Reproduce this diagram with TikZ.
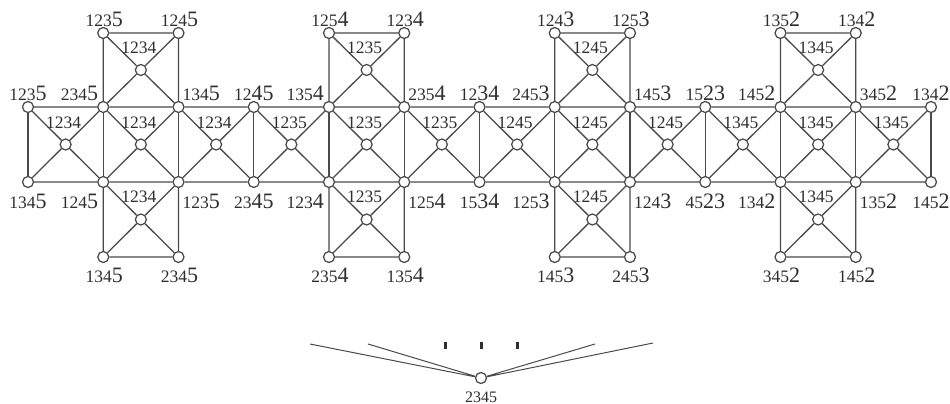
\documentclass[tikz,border=0pt]{standalone}
\usepackage{fontspec}
\setmainfont{Liberation Serif}
\definecolor{ln}{HTML}{4A4A4A}
\definecolor{tx}{HTML}{2E2E2E}
\tikzset{
  vtx/.style={circle, draw=ln, fill=white, line width=1.25pt, minimum size=11pt, inner sep=0pt},
  edge/.style={draw=ln, line width=1.3pt},
  lbl/.style={text=tx, inner sep=0pt, font=\fontsize{17.5}{17.5}\selectfont},
}
\newcommand{\lb}[2]{#1{\fontsize{22}{22}\selectfont #2}}
\begin{document}
\begin{tikzpicture}[x=1pt,y=-1pt]
\useasboundingbox (0,0) rectangle (950,404);
% vertices of the main strip
\foreach \i in {0,...,12} {
  \pgfmathsetmacro{\xx}{28+75.25*\i}
  \node[vtx] (t\i) at (\xx,107) {};
  \node[vtx] (b\i) at (\xx,182) {};
}
\foreach \i in {0,...,11} {
  \pgfmathsetmacro{\xx}{28+75.25*(\i+0.5)}
  \node[vtx] (m\i) at (\xx,144.5) {};
}
% squares above and below
\foreach \k in {1,4,7,10} {
  \pgfmathsetmacro{\xa}{28+75.25*\k}
  \pgfmathsetmacro{\xb}{28+75.25*(\k+1)}
  \pgfmathsetmacro{\xc}{28+75.25*(\k+0.5)}
  \node[vtx] (ua\k) at (\xa,33) {};
  \node[vtx] (ub\k) at (\xb,33) {};
  \node[vtx] (uc\k) at (\xc,70) {};
  \node[vtx] (da\k) at (\xa,257) {};
  \node[vtx] (db\k) at (\xb,257) {};
  \node[vtx] (dc\k) at (\xc,219.5) {};
}
% edges of the strip
\foreach \i [evaluate=\i as \j using int(\i+1)] in {0,...,11} {
  \draw[edge] (t\i) -- (t\j) (b\i) -- (b\j) (t\i) -- (m\i) (m\i) -- (b\j) (b\i) -- (m\i) (m\i) -- (t\j);
}
\foreach \i in {0,...,12} { \draw[edge] (t\i) -- (b\i); }
% edges of the squares
\foreach \k [evaluate=\k as \j using int(\k+1)] in {1,4,7,10} {
  \draw[edge] (ua\k) -- (ub\k) (ua\k) -- (t\k) (ub\k) -- (t\j)
    (ua\k) -- (uc\k) (uc\k) -- (t\j) (ub\k) -- (uc\k) (uc\k) -- (t\k);
  \draw[edge] (da\k) -- (db\k) (da\k) -- (b\k) (db\k) -- (b\j)
    (b\k) -- (dc\k) (dc\k) -- (db\k) (b\j) -- (dc\k) (dc\k) -- (da\k);
}
% labels of the top row
\foreach \i/\p/\q/\an/\dx in {0/123/5/base/0, 1/234/5/base east/-5, 2/134/5/base west/4,
  3/12/45/base/0, 4/135/4/base east/-5, 5/235/4/base west/4,
  6/12/34/base/0, 7/245/3/base east/-5, 8/145/3/base west/4,
  9/15/23/base/0, 10/145/2/base east/-5, 11/345/2/base west/4, 12/134/2/base/0} {
  \pgfmathsetmacro{\xx}{28+75.25*\i+\dx}
  \node[lbl, anchor=\an] (lt\i) at (\xx,100) {\lb{\p}{\q}};
}
% labels of the bottom row
\foreach \i/\p/\q/\an/\dx in {0/134/5/base/0, 1/124/5/base east/-5, 2/123/5/base west/4,
  3/23/45/base/0, 4/123/4/base east/-5, 5/125/4/base west/4,
  6/15/34/base/0, 7/125/3/base east/-5, 8/124/3/base west/4,
  9/45/23/base/0, 10/134/2/base east/-5, 11/135/2/base west/4, 12/145/2/base/0} {
  \pgfmathsetmacro{\xx}{28+75.25*\i+\dx}
  \node[lbl, anchor=\an] (lb\i) at (\xx,208) {\lb{\p}{\q}};
}
% labels of the square corners
\foreach \k/\pa/\qa/\pb/\qb/\pc/\qc/\pd/\qd in {1/123/5/124/5/134/5/234/5,
  4/125/4/123/4/235/4/135/4, 7/124/3/125/3/145/3/245/3, 10/135/2/134/2/345/2/145/2} {
  \pgfmathsetmacro{\xa}{28+75.25*\k+1}
  \pgfmathsetmacro{\xb}{28+75.25*(\k+1)+1}
  \node[lbl, anchor=base] (lua\k) at (\xa,27) {\lb{\pa}{\qa}};
  \node[lbl, anchor=base] (lub\k) at (\xb,27) {\lb{\pb}{\qb}};
  \node[lbl, anchor=base] (lda\k) at (\xa,282) {\lb{\pc}{\qc}};
  \node[lbl, anchor=base] (ldb\k) at (\xb,282) {\lb{\pd}{\qd}};
}
% labels of the middle vertices
\foreach \i/\t in {0/1234,1/1234,2/1234,3/1235,4/1235,5/1235,6/1245,7/1245,8/1245,9/1345,10/1345,11/1345} {
  \pgfmathsetmacro{\xx}{28+75.25*(\i+0.5)-2}
  \node[lbl, anchor=base] (lm\i) at (\xx,128) {\t};
}
\foreach \k/\t in {1/1234,4/1235,7/1245,10/1345} {
  \pgfmathsetmacro{\xx}{28+75.25*(\k+0.5)-2}
  \node[lbl, anchor=base] (luc\k) at (\xx,53) {\t};
  \node[lbl, anchor=base] (ldc\k) at (\xx,202) {\t};
}
% the lone vertex below
\node[vtx] (z) at (481,378) {};
\coordinate (z1) at (310,344);
\coordinate (z2) at (368,344);
\coordinate (z3) at (595,344);
\coordinate (z4) at (653,343);
\draw[edge, line width=1pt] (z1) -- (z) (z2) -- (z) (z3) -- (z) (z4) -- (z);
\foreach \xx in {445,481,517} { \fill[tx] (\xx-1.5,342) rectangle (\xx+1.5,349); }
\node[lbl, anchor=base, font=\fontsize{16}{16}\selectfont] (zl) at (481,402) {2345};
\end{tikzpicture}
\end{document}
